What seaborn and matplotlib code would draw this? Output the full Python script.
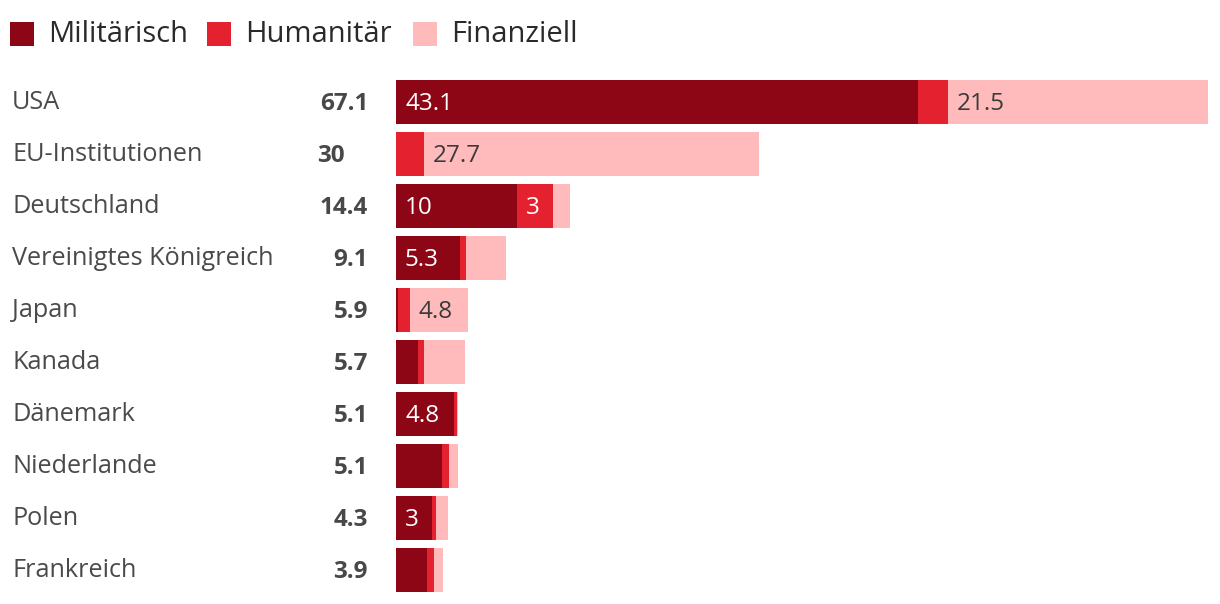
import matplotlib
matplotlib.use("Agg")
import matplotlib.pyplot as plt
from matplotlib.patches import Rectangle
from matplotlib.transforms import blended_transform_factory, offset_copy
import seaborn as sns
import pandas as pd
import numpy as np

# ---- data ----
countries = ["USA", "EU-Institutionen", "Deutschland", "Vereinigtes Königreich",
             "Japan", "Kanada", "Dänemark", "Niederlande", "Polen", "Frankreich"]
militaerisch = [43.1, 0.0, 10.0, 5.3, 0.15, 1.8, 4.8, 3.8, 3.0, 2.6]
humanitaer   = [2.5, 2.3, 3.0, 0.5, 1.0, 0.5, 0.2, 0.6, 0.3, 0.5]
finanziell   = [21.5, 27.7, 1.4, 3.3, 4.8, 3.4, 0.1, 0.7, 1.0, 0.8]
totals       = ["67.1", "30", "14.4", "9.1", "5.9", "5.7", "5.1", "5.1", "4.3", "3.9"]
series_names = ["Militärisch", "Humanitär", "Finanziell"]

colors = ["#8C0616", "#E3212F", "#FFBBBC"]
text_on = ["white", "white", "#3a3a3a"]

W, H = 1220, 604
sns.set_theme(style="white")
plt.rcParams["font.family"] = ["Open Sans", "DejaVu Sans"]

fig = plt.figure(figsize=(W / 100, H / 100), dpi=100)
ax = fig.add_axes([396 / W, 1 - 596 / H, (1208 - 396) / W, (596 - 76) / H])

df = pd.DataFrame({"Land": countries, "m": militaerisch, "h": humanitaer, "f": finanziell})
df["c1"] = df["m"]
df["c2"] = df["m"] + df["h"]
df["c3"] = df["m"] + df["h"] + df["f"]

bar_w = 44 / 52
for col, colr in [("c3", colors[2]), ("c2", colors[1]), ("c1", colors[0])]:
    sns.barplot(data=df, x=col, y="Land", orient="h", color=colr, width=bar_w,
                saturation=1, ax=ax, order=countries, linewidth=0, edgecolor="none")

xmax = float(df["c3"].iloc[0])
ax.set_xlim(0, xmax)
ax.set_ylim(len(countries) - 0.5, -0.5)
ax.set_xlabel("")
ax.set_ylabel("")
ax.set_xticks([])
ax.set_yticks([])
for s in ax.spines.values():
    s.set_visible(False)

fig.canvas.draw()
renderer = fig.canvas.get_renderer()
px_per_unit = (1208 - 396) / xmax
pad = 9
label_fs = 17.5
name_fs = 18.2
dy = -1.5  # points, small downward nudge

# inner segment labels
for i in range(len(countries)):
    vals = [militaerisch[i], humanitaer[i], finanziell[i]]
    start = 0.0
    for k, v in enumerate(vals):
        seg_px = v * px_per_unit
        if v > 0:
            t = ax.text(start + pad / px_per_unit, i, f"{v:g}", ha="left", va="center",
                        fontsize=label_fs, color=text_on[k],
                        transform=offset_copy(ax.transData, fig=fig, y=dy, units="points"))
            tw = t.get_window_extent(renderer).width
            if tw + pad + 6 > seg_px:
                t.remove()
        start += v

# country labels and totals
base = blended_transform_factory(fig.transFigure, ax.transData)
tr_tot = offset_copy(base, fig=fig, y=dy, units="points")
tr_name = offset_copy(base, fig=fig, y=-0.5, units="points")
for i, (c, tot) in enumerate(zip(countries, totals)):
    ax.text(12 / W, i, c, transform=tr_name, ha="left", va="center", fontsize=name_fs,
            color="#4a4a4a")
    xr = 368 if "." in tot else 345
    ax.text(xr / W, i, tot, transform=tr_tot, ha="right", va="center", fontsize=label_fs,
            color="#484848", fontweight="bold")

# legend
leg_x = [10, 207, 413]
txt_x = [48, 245, 451]
for k, name in enumerate(series_names):
    fig.patches.append(Rectangle((leg_x[k] / W, 1 - 46 / H), 24 / W, 24 / H,
                                 transform=fig.transFigure, facecolor=colors[k],
                                 edgecolor="none"))
    fig.text(txt_x[k] / W, 1 - 35 / H, name, ha="left", va="center", fontsize=21,
             color="#2a2a2a")

fig.savefig("out.png", dpi=100, facecolor="white")
